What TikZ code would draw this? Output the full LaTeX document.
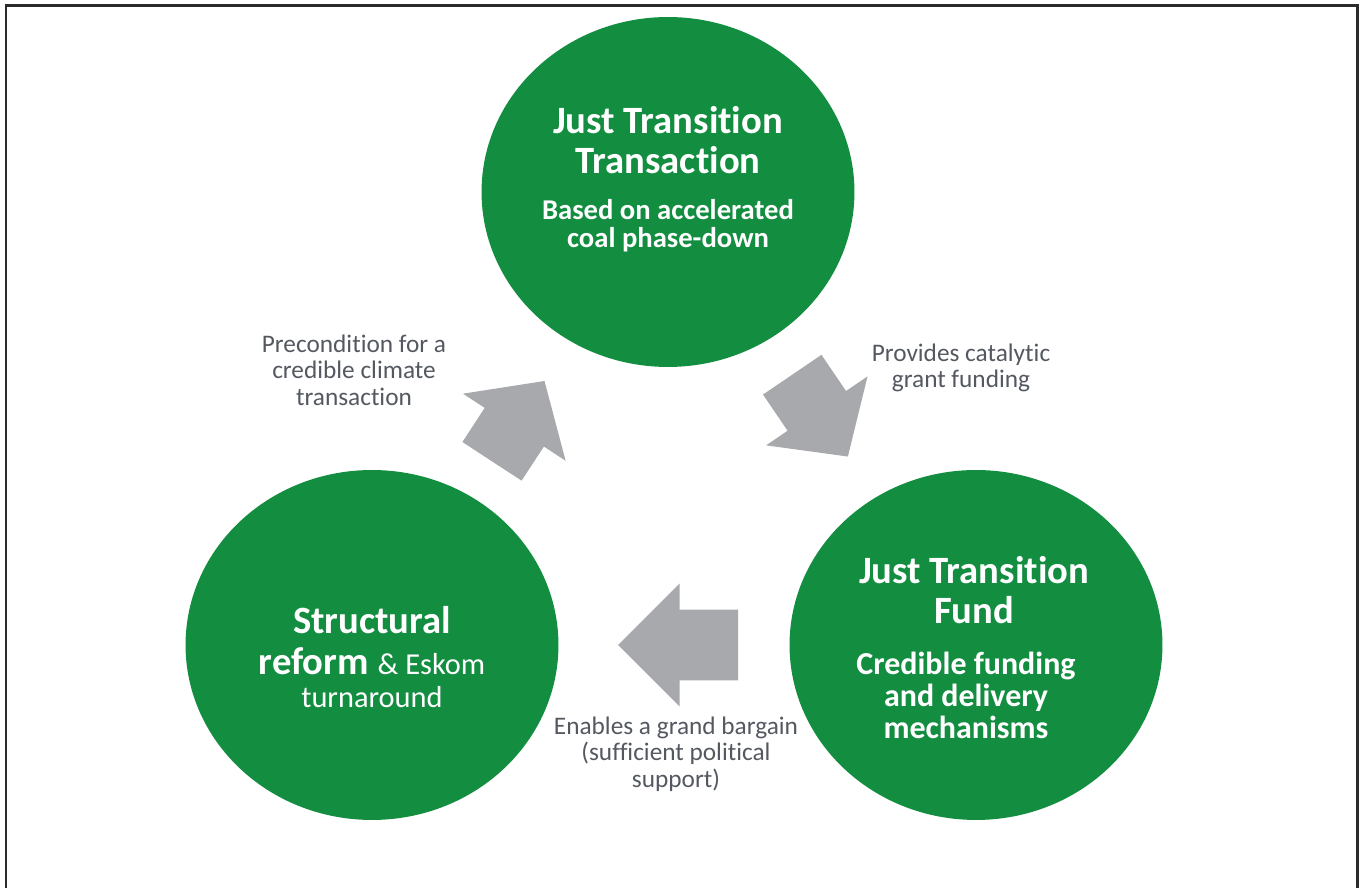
\documentclass[tikz,border=0pt]{standalone}
\usepackage{fontspec}
\setmainfont{Carlito}[Ligatures=NoCommon]
\usetikzlibrary{shapes.geometric,shapes.arrows}
\definecolor{jtgreen}{RGB}{19,142,65}
\definecolor{arrowgrey}{RGB}{167,169,172}
\definecolor{labelgrey}{RGB}{84,88,96}
\definecolor{framegrey}{RGB}{43,43,43}

\begin{document}
\begin{tikzpicture}[x=0.02cm,y=0.02cm]
\tikzset{
  bubble/.style={ellipse, fill=jtgreen, inner sep=0pt, minimum width=7.46cm, minimum height=7cm},
  headtext/.style={text=white, align=center, inner sep=0pt, font=\bfseries\fontsize{22}{22.7}\selectfont},
  subtext/.style={text=white, align=center, inner sep=0pt, font=\bfseries\fontsize{16.3}{15.9}\selectfont},
  caption/.style={text=labelgrey, align=center, inner sep=0pt, font=\fontsize{14.4}{15}\selectfont},
  flow/.style={single arrow, fill=arrowgrey, inner xsep=0pt, inner ysep=0.7cm, text height=0pt, text depth=0pt,
    single arrow head extend=0.52cm, single arrow tip angle=96, allow upside down, sloped, anchor=tail, pos=0.22}
}
\useasboundingbox (0,0) rectangle (1363,888);
\draw [framegrey, line width=0.06cm] (6,0) -- (6,882) -- (1357,882) -- (1357,0);

\node [bubble] (transaction) at (668,696) {};
\node [bubble] (structural) at (372,243) {};
\node [bubble] (fund) at (976,243) {};

\node [headtext] (transaction-head) at (668,748) {Just Transition\\Transaction};
\node [subtext] (transaction-sub) at (668,662) {Based on accelerated\\coal phase-down};
\node [headtext] (fund-head) at (974,298) {Just Transition\\Fund};
\node [subtext, font=\bfseries\fontsize{18.2}{18.2}\selectfont] (fund-sub) at (966,193) {Credible funding\\and delivery\\mechanisms};
\node [headtext, font=\bfseries\fontsize{22}{23.8}\selectfont] (structural-text) at (372,231)
  {Structural\\reform {\mdseries\fontsize{17.3}{17.3}\selectfont\& Eskom}\\[-5pt]{\mdseries\fontsize{17.3}{17.3}\selectfont turnaround}};

\path (structural) -- (transaction) node [flow, minimum height=1.92cm] (precondition-arrow) {};
\path (transaction) -- (fund) node [flow, minimum height=1.98cm] (catalytic-arrow) {};
\path (fund) -- (structural) node [flow, minimum height=2.4cm, single arrow tip angle=90] (bargain-arrow) {};

\node [caption] (precondition) at (354,518) {Precondition for a\\credible climate\\transaction};
\node [caption] (catalytic) at (961,520) {Provides catalytic\\grant funding};
\node [caption] (bargain) at (676,134) {Enables a grand bargain\\(sufficient political\\support)};
\end{tikzpicture}
\end{document}
